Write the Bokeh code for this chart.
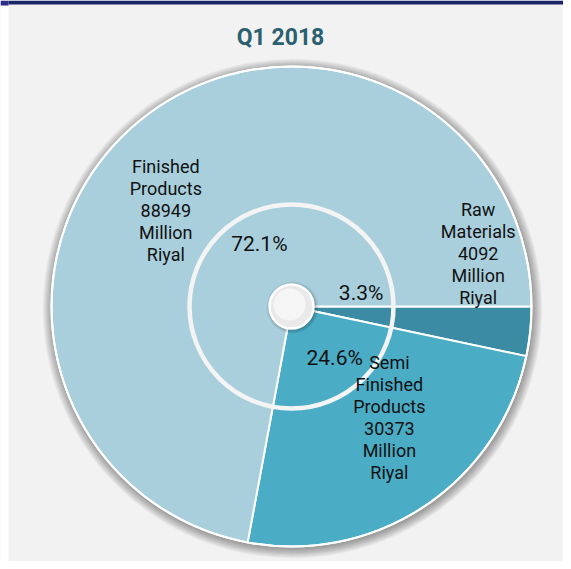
import math
from bokeh.plotting import figure
from bokeh.models import ColumnDataSource
from bokeh.core.properties import value
from bokeh.embed import file_html
from bokeh.resources import INLINE

# ---- data ----
categories = ["Raw Materials", "Semi Finished Products", "Finished Products"]
values_mr = [4092, 30373, 88949]
colors = ["#3a8ba3", "#4aacc5", "#a9cfdd"]
title_text = "Q1 2018"

# ---- layout (pixel-like data space) ----
W, H = 563, 561
CX, CY = 291, 255          # pie centre
R_OUT, R_RING, R_HOLE = 240, 102, 22

# label placement (polar, degrees / radius)
outer_lbl_ang = [15.8, -48.6, 142.7]
outer_lbl_rad = [194, 148, 158]
pct_lbl_ang = [11.3, -49.9, 117.3]
pct_lbl_rad = [71, 67, 70]

total = sum(values_mr)
fracs = [v / total for v in values_mr]
starts, ends = [], []
cum = 0.0
for f in fracs:
    # clockwise from 3 o'clock
    ends.append(-cum * 2 * math.pi)
    cum += f
    starts.append(-cum * 2 * math.pi)

p = figure(width=W, height=H, x_range=(0, W), y_range=(0, H),
           output_backend="svg", toolbar_location=None,
           min_border=0, min_border_left=0, min_border_right=0,
           min_border_top=0, min_border_bottom=0)
p.axis.visible = False
p.grid.visible = False
p.outline_line_color = None
p.background_fill_color = "#f2f2f2"
p.border_fill_color = "#f2f2f2"

# page frame: navy top band and white left strip
p.quad(left=[0], right=[8], bottom=[0], top=[H - 5], fill_color="white", line_color=None)
p.quad(left=[0], right=[8], bottom=[H - 5], top=[H], fill_color="#2d2b8c", line_color=None)
p.quad(left=[8], right=[W], bottom=[H - 4], top=[H], fill_color="#1b2468", line_color=None)

# drop shadow
for i in range(12):
    p.circle(x=CX + 1, y=CY - 2, radius=R_OUT + 1 + i * 0.8,
             fill_color="#000000", fill_alpha=0.03, line_color=None)

src = ColumnDataSource(dict(start=starts, end=ends, color=colors, cat=categories))
p.wedge(x=CX, y=CY, radius=R_OUT, start_angle="start", end_angle="end",
        direction="anticlock", fill_color="color", line_color="white",
        line_width=2, source=src)
p.circle(x=CX, y=CY, radius=R_OUT, fill_color=None, line_color="white", line_width=2)

# inner ring
p.circle(x=CX, y=CY, radius=R_RING, fill_color=None, line_color="#f4f4f4", line_width=4.5)

# hole with shadow
for i in range(4):
    p.circle(x=CX + 1, y=CY - 1, radius=R_HOLE + 1 + i,
             fill_color="#000000", fill_alpha=0.06, line_color=None)
p.circle(x=CX, y=CY, radius=R_HOLE, fill_color="#e9e9e9", line_color="white", line_width=2.5)
p.circle(x=CX - 2, y=CY + 2, radius=R_HOLE - 6, fill_color="#f5f5f5", line_color=None)

# outer labels
def fmt(name, v):
    words = name.split(" ")
    return "\n".join(words + [str(v), "Million", "Riyal"])

ox = [CX + r * math.cos(math.radians(a)) for a, r in zip(outer_lbl_ang, outer_lbl_rad)]
oy = [CY + r * math.sin(math.radians(a)) for a, r in zip(outer_lbl_ang, outer_lbl_rad)]
otxt = [fmt(c, v) for c, v in zip(categories, values_mr)]
p.text(x=ox, y=oy, text=otxt, text_align="center", text_baseline="middle",
       text_font=value("Roboto"), text_font_size="18px", text_color="#111111",
       text_line_height=1.05)

# percentage labels
px_ = [CX + r * math.cos(math.radians(a)) for a, r in zip(pct_lbl_ang, pct_lbl_rad)]
py_ = [CY + r * math.sin(math.radians(a)) for a, r in zip(pct_lbl_ang, pct_lbl_rad)]
ptxt = [f"{f * 100:.1f}%" for f in fracs]
p.text(x=px_, y=py_, text=ptxt, text_align="center", text_baseline="middle",
       text_font=value("Roboto"), text_font_size="21px", text_color="#111111")

# title
p.text(x=[280], y=[H - 37], text=[title_text], text_align="center",
       text_baseline="middle", text_font=value("Roboto"), text_font_size="23px",
       text_font_style="bold", text_color="#2a6070")

open("out.html", "w").write(file_html(p, INLINE))
